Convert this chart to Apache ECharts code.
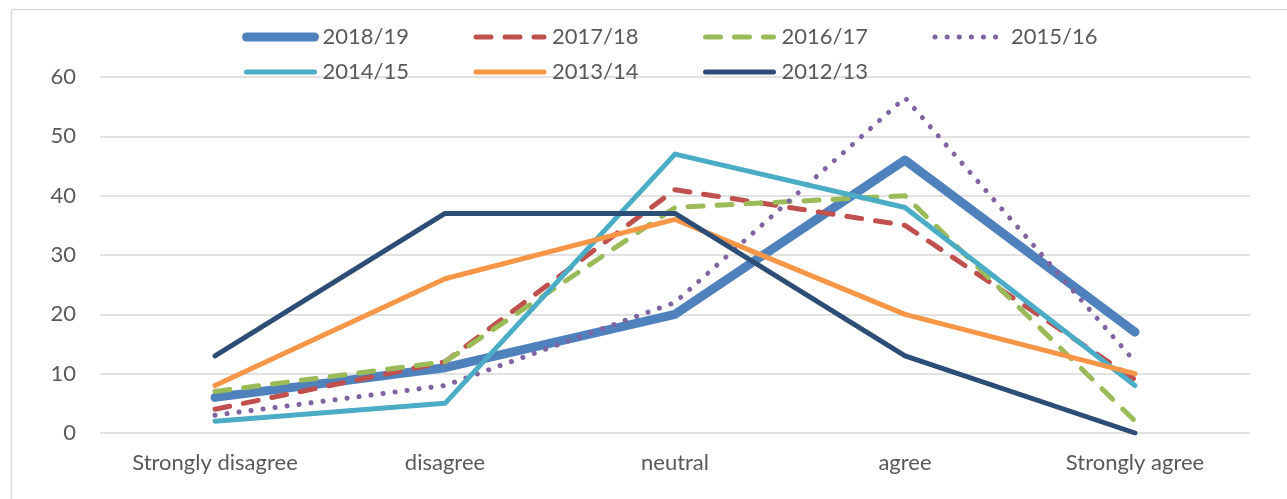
<!DOCTYPE html>
<html>
<head>
<meta charset="utf-8">
<script src="https://cdn.jsdelivr.net/npm/echarts@6/dist/echarts.min.js"></script>
<style>
  html, body { margin: 0; padding: 0; background: #fff; }
  #main { width: 1287px; height: 499px; }
</style>
</head>
<body>
<div id="main"></div>
<script>
var categories = ['Strongly disagree', 'disagree', 'neutral', 'agree', 'Strongly agree'];
var yTicks = [0, 10, 20, 30, 40, 50, 60];

var y2018 = [6, 11, 20, 46, 17];
var y2017 = [4, 12, 41, 35, 9];
var y2016 = [7, 12, 38, 40, 2];
var y2015 = [3, 8, 22, 56.5, 12];
var y2014 = [2, 5, 47, 38, 8];
var y2013 = [8, 26, 36, 20, 10];
var y2012 = [13, 37, 37, 13, 0];

function makeLine(name, data, color, width, type) {
    return {
        name: name,
        type: 'line',
        data: data,
        symbol: 'none',
        lineStyle: { color: color, width: width, type: type, cap: 'round', join: 'round' },
        itemStyle: { color: color }
    };
}

function initChart() {
    var myChart = echarts.init(document.getElementById('main'));
    var font = 'Lato, "Open Sans", sans-serif';
    var option = {
        animation: false,
        graphic: [
            { type: 'line', shape: { x1: 11.5, y1: 10, x2: 11.5, y2: 499 }, style: { stroke: '#d9d9d9', lineWidth: 1.5 } },
            { type: 'line', shape: { x1: 11, y1: 9.5, x2: 1287, y2: 9.5 }, style: { stroke: '#d9d9d9', lineWidth: 1.5 } }
        ],
        legend: {
            left: 237,
            top: 21,
            width: 940,
            itemWidth: 68,
            itemHeight: 20,
            itemGap: 13,
            itemStyle: { opacity: 0 },
            lineStyle: { width: 'inherit', cap: 'round' },
            textStyle: { fontFamily: font, fontSize: 22, color: '#595959', width: 138, lineHeight: 22, padding: [0, 0, 0, 3] },
            data: ['2018/19', '2017/18', '2016/17', '2015/16', '2014/15', '2013/14', '2012/13']
        },
        grid: { left: 100, right: 37, top: 77, bottom: 66 },
        xAxis: {
            type: 'category',
            data: categories,
            boundaryGap: true,
            axisLine: { show: false },
            axisTick: { show: false },
            axisLabel: { fontFamily: font, fontSize: 22, color: '#595959', margin: 19 }
        },
        yAxis: {
            type: 'value',
            min: yTicks[0],
            max: yTicks[yTicks.length - 1],
            interval: 10,
            axisLine: { show: false },
            axisTick: { show: false },
            axisLabel: { fontFamily: font, fontSize: 22, color: '#595959', margin: 24 },
            splitLine: { lineStyle: { color: '#d9d9d9', width: 1.5 } }
        },
        series: [
            makeLine('2018/19', y2018, '#4f81bd', 9, 'solid'),
            makeLine('2017/18', y2017, '#c0504d', 5, [15, 14]),
            makeLine('2016/17', y2016, '#9bbb59', 5, [15, 14]),
            makeLine('2015/16', y2015, '#8064a2', 5, [0.1, 12]),
            makeLine('2014/15', y2014, '#4bacc6', 5, 'solid'),
            makeLine('2013/14', y2013, '#f79646', 5, 'solid'),
            makeLine('2012/13', y2012, '#2c4d75', 5, 'solid')
        ]
    };
    myChart.setOption(option);
}

initChart();
</script>
</body>
</html>
